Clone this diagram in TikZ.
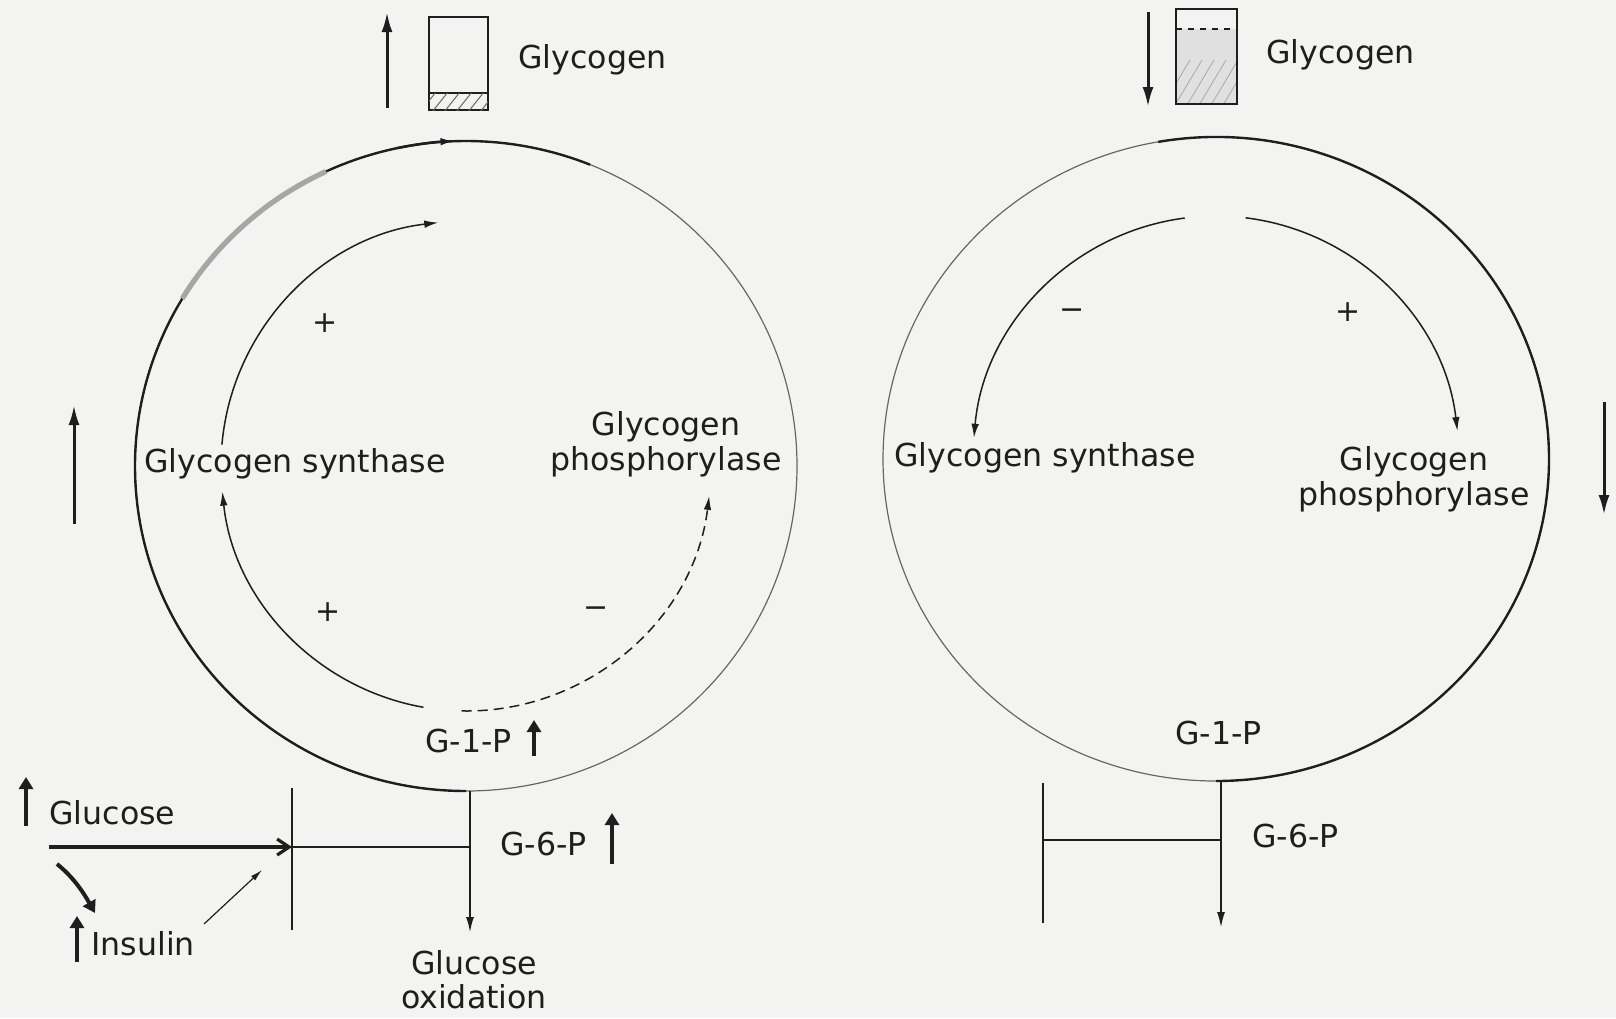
\documentclass[tikz,border=0pt]{standalone}
\usepackage{fontspec}
\setmainfont{DejaVu Sans}
\usetikzlibrary{arrows.meta}
\definecolor{bgc}{RGB}{243,243,241}
\definecolor{ink}{RGB}{30,30,30}
\begin{document}
\begin{tikzpicture}[x=0.5pt,y=-0.5pt,
  lbl/.style={font=\fontsize{15.8}{19}\selectfont, inner sep=0pt, text=ink},
  sgn/.style={font=\fontsize{15}{17}\selectfont, inner sep=0pt, text=ink},
  dark/.style={line width=1.2pt, ink},
  light/.style={line width=0.6pt, black!60},
  innerarc/.style={line width=0.75pt, ink},
  tip/.style={-{Latex[length=7pt,width=3.8pt]}},
  boldup/.style={line width=2pt, ink, -{Triangle[length=6pt,width=7pt]}},
  sidearrow/.style={line width=1.5pt, ink, -{Latex[length=10pt,width=5.5pt]}},
]
\useasboundingbox (0,0) rectangle (1616,1018);
\fill[bgc] (0,0) rectangle (1616,1018);

% ---------------- LEFT PANEL ----------------
\coordinate (LC) at (466,466);
\draw[light] (LC) ellipse [x radius=331, y radius=325];
\draw[dark] (LC) ++(90:331 and 325) arc[start angle=90, end angle=292, x radius=331, y radius=325];
\draw[line width=2.6pt, black!35] (LC) ++(211:331 and 325) arc[start angle=211, end angle=245, x radius=331, y radius=325];
\draw[dark, tip] (LC) ++(258:331 and 325) arc[start angle=258, end angle=268, x radius=331, y radius=325];

% inner arcs
\draw[innerarc, tip] (LC) ++(185:245) arc[start angle=185, end angle=263.5, radius=245];
\draw[innerarc, tip] (LC) ++(100:245) arc[start angle=100, end angle=174, radius=245];
\draw[innerarc, dash pattern=on 5pt off 3pt, tip] (LC) ++(91:245) arc[start angle=91, end angle=7, radius=245];

\node[sgn] (lp1) at (325,323) {+};
\node[sgn] (lp2) at (328,612) {+};
\node[sgn] (lm1) at (596,612) {−};

\node[lbl, anchor=base west] (lsyn) at (144,472) {Glycogen synthase};
\node[lbl, anchor=base] (lph1) at (666,435) {Glycogen};
\node[lbl, anchor=base] (lph2) at (666,470) {phosphorylase};

% glycogen box left
\draw[line width=1.3pt, ink] (429,17) rectangle (488,110);
\draw[line width=1pt, ink] (429,93) -- (488,93);
\begin{scope}
\clip (429,93) rectangle (488,110);
\foreach \i in {0,...,6} {\draw[line width=0.5pt, black!60] (420+\i*12,112) -- (436+\i*12,92);}
\end{scope}
\draw[sidearrow] (387,108) -- (387,12);
\node[lbl, anchor=base west] (lgly) at (518,68) {Glycogen};

\draw[sidearrow] (74,524) -- (74,405);

% bottom left
\coordinate (LJ) at (470,791);
\coordinate (LT) at (470,847);
\coordinate (LO) at (470,933);
\coordinate (LBarT) at (292,788);
\coordinate (LBarB) at (292,930);
\coordinate (LBarM) at (292,847);
\coordinate (LGs) at (49,847);
\draw[line width=1.1pt, ink, -{Latex[length=8pt,width=4pt]}] (LJ) -- (LO);
\draw[line width=0.9pt, ink] (LT) -- (LBarM);
\draw[line width=0.8pt, ink] (LBarT) -- (LBarB);
\draw[line width=1.8pt, ink, -{Straight Barb[length=6pt,width=8pt,line width=1.6pt]}] (LGs) -- (LBarM);

\node[lbl, anchor=base west] (lg1p) at (425,752) {G-1-P};
\draw[boldup] (534,756) -- (534,720);
\node[lbl, anchor=base west] (lg6p) at (500,855) {G-6-P};
\draw[boldup] (612,864) -- (612,813);

\node[lbl, anchor=base west] (glu) at (49,824) {Glucose};
\draw[boldup] (26,826) -- (26,777);
\node[lbl, anchor=base west] (ins) at (91,955) {Insulin};
\draw[boldup] (77,962) -- (77,916);

\coordinate (cs) at (57,864);
\coordinate (ce) at (95,913);
\draw[line width=2pt, ink, -{Triangle[length=6pt,width=7pt]}] (cs) .. controls (72,876) and (82,890) .. (ce);
\coordinate (is) at (204,924);
\coordinate (ie) at (262,870);
\draw[line width=0.6pt, ink, -{Latex[length=6pt,width=3pt]}] (is) -- (ie);

\node[lbl, anchor=base] (ox1) at (474,974) {Glucose};
\node[lbl, anchor=base] (ox2) at (474,1008) {oxidation};

% ---------------- RIGHT PANEL ----------------
\coordinate (RC) at (1216,459);
\draw[light] (RC) ellipse [x radius=333, y radius=322];
\draw[dark] (RC) ++(-100:333 and 322) arc[start angle=-100, end angle=90, x radius=333, y radius=322];

\draw[innerarc, tip] (RC) ++(262.6:243) arc[start angle=262.6, end angle=185, radius=243];
\draw[innerarc, tip] (RC) ++(-83:243) arc[start angle=-83, end angle=-6.6, radius=243];

\node[sgn] (rm1) at (1072,314) {−};
\node[sgn] (rp1) at (1348,312) {+};

\node[lbl, anchor=base west] (rsyn) at (894,466) {Glycogen synthase};
\node[lbl, anchor=base] (rph1) at (1414,470) {Glycogen};
\node[lbl, anchor=base] (rph2) at (1414,505) {phosphorylase};

% glycogen box right
\fill[black!12] (1176,29) rectangle (1237,104);
\begin{scope}
\clip (1176,29) rectangle (1237,104);
\foreach \i in {0,...,8} {\draw[line width=0.4pt, black!35] (1160+\i*12,110) -- (1190+\i*12,60);}
\end{scope}
\draw[line width=1.3pt, ink] (1176,9) rectangle (1237,104);
\draw[line width=0.9pt, ink, dashed] (1176,29) -- (1237,29);
\draw[sidearrow] (1148,12) -- (1148,107);
\node[lbl, anchor=base west] (rgly) at (1266,63) {Glycogen};

\draw[sidearrow] (1604,402) -- (1604,515);

\coordinate (RJ) at (1221,781);
\coordinate (RT) at (1221,840);
\coordinate (RO) at (1221,928);
\coordinate (RBarT) at (1043,783);
\coordinate (RBarB) at (1043,923);
\coordinate (RBarM) at (1043,840);
\draw[line width=1.1pt, ink, -{Latex[length=8pt,width=4pt]}] (RJ) -- (RO);
\draw[line width=0.9pt, ink] (RT) -- (RBarM);
\draw[line width=0.9pt, ink] (RBarT) -- (RBarB);

\node[lbl, anchor=base west] (rg1p) at (1175,744) {G-1-P};
\node[lbl, anchor=base west] (rg6p) at (1252,847) {G-6-P};
\end{tikzpicture}
\end{document}
